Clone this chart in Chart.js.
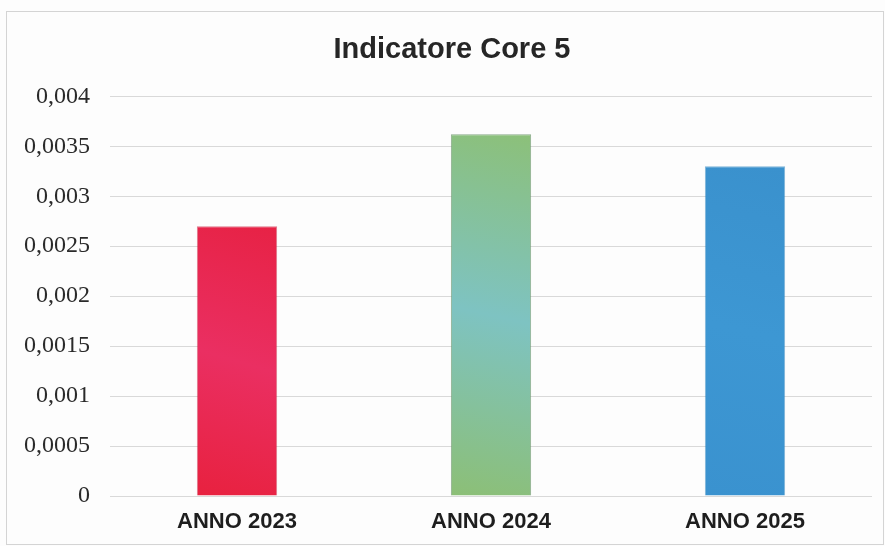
<!DOCTYPE html>
<html>
<head>
<meta charset="utf-8">
<script src="https://cdn.jsdelivr.net/npm/chart.js@4.4.1/dist/chart.umd.min.js"></script>
<style>
  html, body { margin: 0; padding: 0; background: #ffffff; }
  #wrap { position: relative; width: 885px; height: 546px; background: #fdfdfd; }
  #frame { position: absolute; left: 6px; top: 11px; width: 876px; height: 532px; border: 1px solid #d4d4d4; pointer-events: none; }
  canvas { position: absolute; left: 0; top: 0; }
</style>
</head>
<body>
<div id="wrap">
  <canvas id="c" width="885" height="546"></canvas>
  <div id="frame"></div>
</div>
<script>
const titleText = 'Indicatore Core 5';
const categories = ['ANNO 2023', 'ANNO 2024', 'ANNO 2025'];
const values = [0.0027, 0.00362, 0.0033];
const yMin = 0;
const yMax = 0.004;
const yStep = 0.0005;

const gradientStops = [
  ['#e8213f', '#ea2f62', '#e72245'],
  ['#8cbf76', '#7ec3c2', '#8cc079'],
  ['#3a92cf', '#3d97d3', '#3a91cd']
];

function barFill(context) {
  const i = context.dataIndex;
  const stops = gradientStops[i];
  const chart = context.chart;
  const area = chart.chartArea;
  const xs = chart.scales && chart.scales.x;
  const ys = chart.scales && chart.scales.y;
  if (!area || !xs || !ys) return stops[0];
  const cx = xs.getPixelForValue(i);
  const top = ys.getPixelForValue(values[i]);
  const half = 40;
  const coords = [cx - half, area.bottom, cx + half, top];
  if (!coords.every(Number.isFinite)) return stops[0];
  const g = chart.ctx.createLinearGradient(coords[0], coords[1], coords[2], coords[3]);
  g.addColorStop(0, stops[0]);
  g.addColorStop(0.5, stops[1]);
  g.addColorStop(1, stops[2]);
  return g;
}

function fmt(v) {
  return parseFloat(Number(v).toFixed(6)).toString().replace('.', ',');
}

const titleShift = {
  id: 'titleShift',
  afterLayout(chart) {
    const tb = chart.titleBlock;
    if (tb) { tb.left += 14; tb.right += 14; }
  }
};

new Chart(document.getElementById('c'), {
  type: 'bar',
  data: {
    labels: categories,
    datasets: [{
      data: values,
      backgroundColor: barFill,
      borderColor: ['rgba(200,30,60,0.6)', 'rgba(110,150,110,0.8)', 'rgba(40,130,190,0.6)'],
      borderWidth: 1,
      categoryPercentage: 0.62,
      barPercentage: 0.51
    }]
  },
  plugins: [titleShift],
  options: {
    responsive: false,
    animation: false,
    devicePixelRatio: 1,
    layout: { padding: { top: 0, right: 13, bottom: 0, left: 4 } },
    plugins: {
      legend: { display: false },
      tooltip: { enabled: false },
      title: {
        display: true,
        text: titleText,
        color: '#262626',
        font: { family: 'Liberation Sans', size: 29, weight: 'bold' },
        padding: { top: 33, bottom: 28.5 }
      }
    },
    scales: {
      x: {
        grid: { display: false, drawTicks: false },
        border: { display: false },
        afterFit: (s) => { s.height = 50; },
        ticks: {
          color: '#1e1e1e',
          font: { family: 'Liberation Sans', size: 22, weight: 'bold' },
          padding: 13
        }
      },
      y: {
        min: yMin,
        max: yMax,
        grid: { color: '#d9d9d9', lineWidth: 1, drawTicks: false },
        border: { display: false },
        afterFit: (s) => { s.width = 106; },
        ticks: {
          stepSize: yStep,
          color: '#2a2a2a',
          font: { family: 'Liberation Serif', size: 24 },
          padding: 20,
          callback: (v) => fmt(v)
        }
      }
    }
  }
});
</script>
</body>
</html>
